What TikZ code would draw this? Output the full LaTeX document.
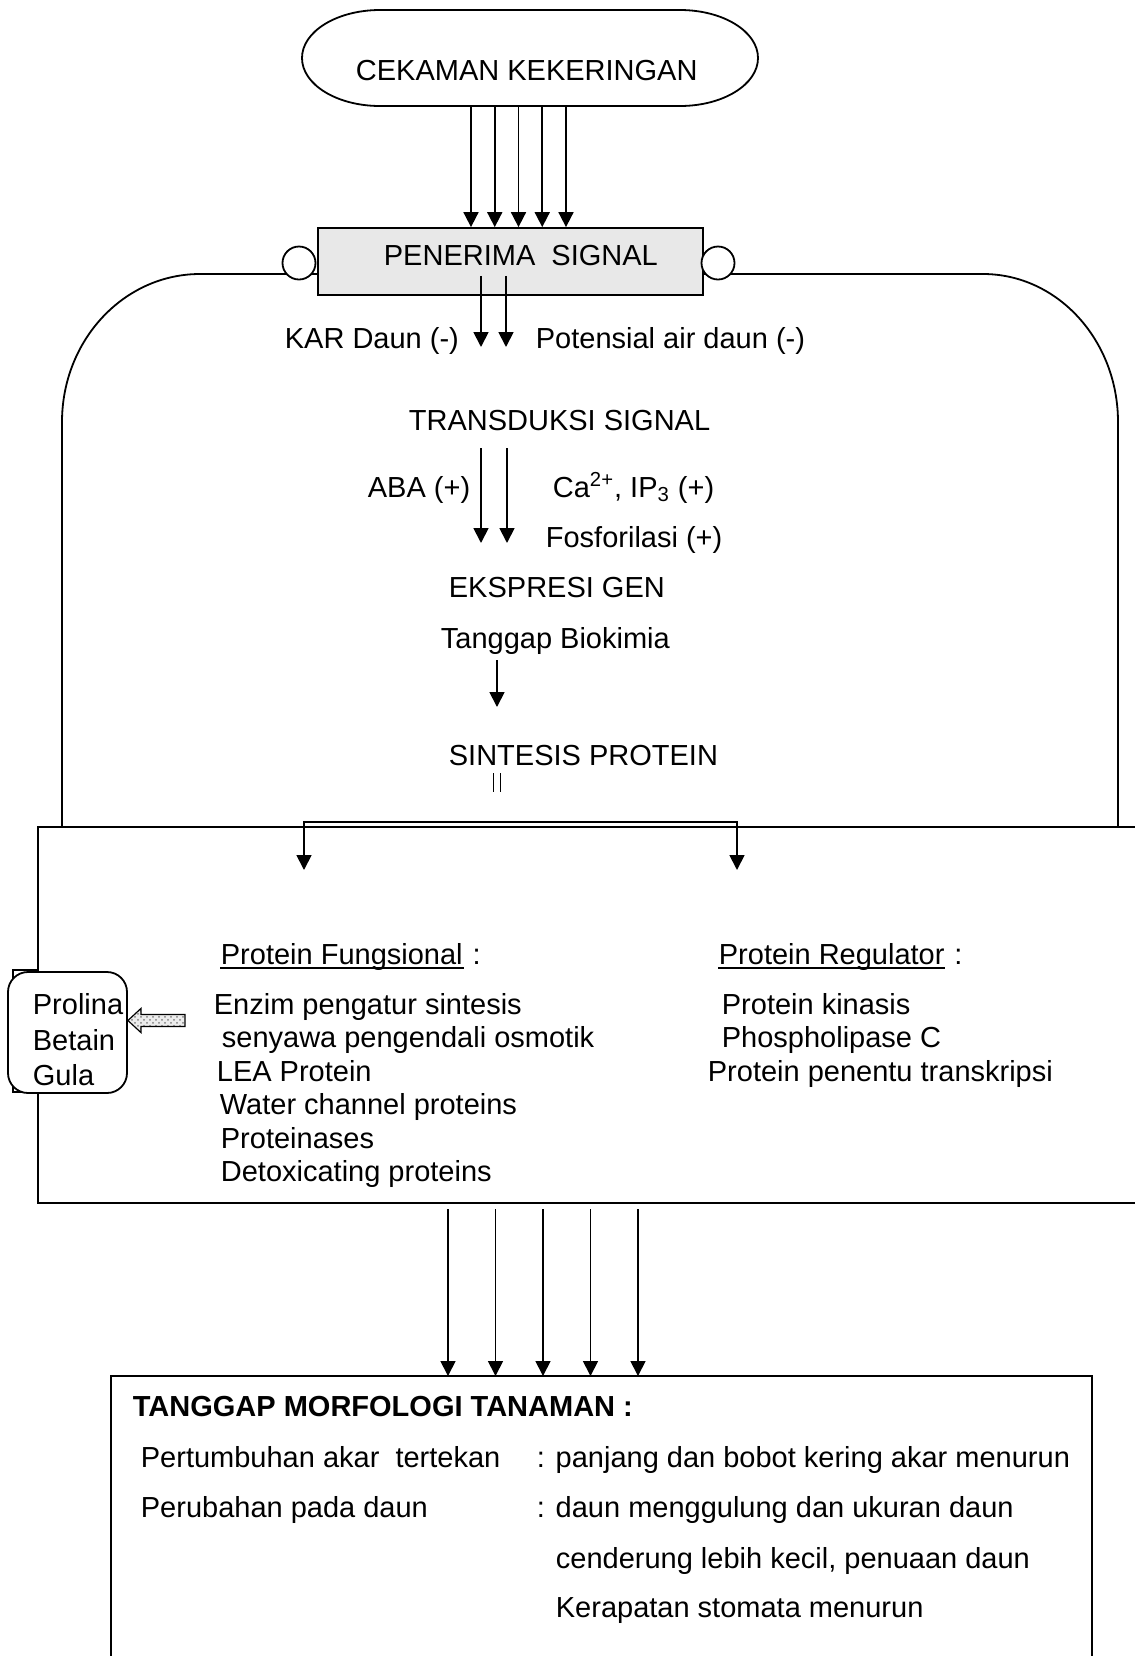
\documentclass[tikz,border=0pt]{standalone}
\usepackage{fontspec}
\setmainfont{Liberation Sans}
\usetikzlibrary{arrows.meta,patterns}

\tikzset{
  arr/.style={-{Triangle[length=7.5pt,width=7.5pt]}},
  txt/.style={anchor=base west,inner sep=0pt},
  stadium/.style={minimum width=228pt,minimum height=48pt,inner sep=0pt},
  recbox/.style={draw,fill=gray!18,minimum width=192.5pt,minimum height=33.5pt,inner sep=0pt},
  port/.style={draw,circle,fill=white,minimum size=16.5pt,inner sep=0pt},
  osmobox/.style={draw,fill=white,rounded corners=10pt,minimum width=59.5pt,minimum height=60.5pt,inner sep=0pt}
}

\begin{document}
\begin{tikzpicture}[x=0.5pt,y=-0.5pt,line width=0.9pt,font=\fontsize{14.5}{17.4}\selectfont]
    \useasboundingbox (0,0) rectangle (1135,1656);

    % cekaman
    \node[stadium] (stress) at (530,58) {};
    \draw (380,10) -- (680,10) arc[start angle=270,end angle=450,x radius=78,y radius=48]
        -- (380,106) arc[start angle=90,end angle=270,x radius=78,y radius=48];
    \node[txt] (stresstxt) at (355,80) {CEKAMAN KEKERINGAN};

    % membran sel
    \draw (62,826) -- (62,422) arc[start angle=180,end angle=270,x radius=138,y radius=148] -- (318,274);
    \draw (703,274) -- (983,274) arc[start angle=270,end angle=360,x radius=135,y radius=148] -- (1118,826);

    % penerima signal
    \node[recbox] (receptor) at (510.5,261.5) {};
    \node[txt] (rectxt) at (383,265) {PENERIMA\ \ SIGNAL};
    \node[port] (portl) at (299,263) {};
    \node[port] (portr) at (718,263) {};
    \foreach \x in {471,494.75,518.5,542.25,566}
        \draw[arr] (\x,0 |- stress.south) -- (\x,0 |- receptor.north);

    % transduksi
    \coordinate (recout) at ([yshift=10pt]receptor.south);
    \node[txt] (kar) at (284,348) {KAR Daun (-)};
    \node[txt] (potair) at (535,348) {Potensial air daun (-)};
    \foreach \x in {481,506}
        \draw[arr] (\x,0 |- recout) -- (\x,347);

    \node[txt] (transd) at (408,430) {TRANSDUKSI SIGNAL};
    \node[txt] (aba) at (367,497) {ABA (+)};
    \node[txt] (caip) at (552,497) {Ca\textsuperscript{2+}, IP\textsubscript{3} (+)};
    \node[txt] (fosfo) at (545,547) {Fosforilasi (+)};
    \foreach \x in {481,507}
        \draw[arr] (\x,448) -- (\x,543);

    \node[txt] (ekspresi) at (448,597) {EKSPRESI GEN};
    \node[txt] (tanggap) at (440,648) {Tanggap Biokimia};
    \draw[arr] (497,660) -- (497,707);
    \node[txt] (sintesis) at (448,765) {SINTESIS PROTEIN};
    \draw[line width=0.5pt,double,double distance=3pt] (496.5,773) -- (496.5,792);

    % cabang
    \coordinate (bl) at (304,822);
    \coordinate (br) at (737,822);
    \coordinate (blt) at (304,870);
    \coordinate (brt) at (737,870);
    \draw[{Triangle[length=7.5pt,width=7.5pt]}-{Triangle[length=7.5pt,width=7.5pt]}] (blt) -- (bl) -- (br) -- (brt);

    % kotak protein
    \draw[line width=1.1pt] (1135,827) -- (38,827) -- (38,1203) -- (1135,1203);
    \draw (38,970) -- (13,970) -- (13,1092) -- (38,1092);
    \node[osmobox] (osmo) at (67.5,1032.5) {};
    \node[txt] (prolina) at (32,1014) {Prolina};
    \node[txt] (betain) at (32,1050) {Betain};
    \node[txt] (gula) at (32,1085) {Gula};
    \draw[line width=0.6pt,preaction={fill=gray!15},pattern=crosshatch dots,pattern color=gray]
        ([yshift=6pt]osmo.east) -- ++(13,-12) -- ++(0,6) -- ++(44,0) -- ++(0,12) -- ++(-44,0) -- ++(0,6) -- cycle;

    \node[txt] (pfun) at (220,964) {Protein Fungsional};
    \node[txt] (pfuncol) at (pfun.base east) {\ :};
    \draw ([yshift=-2pt]pfun.base west) -- ([yshift=-2pt]pfun.base east);
    \node[txt] (enzim) at (213,1014) {Enzim pengatur sintesis};
    \node[txt] (senyawa) at (221,1047) {senyawa pengendali osmotik};
    \node[txt] (lea) at (216,1081) {LEA Protein};
    \node[txt] (water) at (219,1114) {Water channel proteins};
    \node[txt] (proteinase) at (220,1148) {Proteinases};
    \node[txt] (detox) at (220,1181) {Detoxicating proteins};

    \node[txt] (preg) at (718,964) {Protein Regulator};
    \node[txt] (pregcol) at (preg.base east) {\ :};
    \draw ([yshift=-2pt]preg.base west) -- ([yshift=-2pt]preg.base east);
    \node[txt] (kinase) at (721,1014) {Protein kinasis};
    \node[txt] (plc) at (721,1047) {Phospholipase C};
    \node[txt] (transkr) at (707,1081) {Protein penentu transkripsi};

    % tanggap morfologi
    \coordinate (protbot) at (0,1209);
    \coordinate (morftop) at (0,1376);
    \foreach \x in {448,495.5,543,590.5,638}
        \draw[arr] (\x,0 |- protbot) -- (\x,0 |- morftop);
    \draw (111,1656) -- (111,1376) -- (1092,1376) -- (1092,1656);

    \node[txt] (morf) at (132,1416) {\textbf{TANGGAP MORFOLOGI TANAMAN :}};
    \node[txt] (akar) at (140,1467) {Pertumbuhan akar\ \ tertekan};
    \node[txt] (akarket) at (536,1467) {: panjang dan bobot kering akar menurun};
    \node[txt] (daun) at (140,1517) {Perubahan pada daun};
    \node[txt] (daunket) at (536,1517) {: daun menggulung dan ukuran daun};
    \node[txt] (daunket2) at (555,1568) {cenderung lebih kecil, penuaan daun};
    \node[txt] (stomata) at (555,1617) {Kerapatan stomata menurun};

\end{tikzpicture}
\end{document}
